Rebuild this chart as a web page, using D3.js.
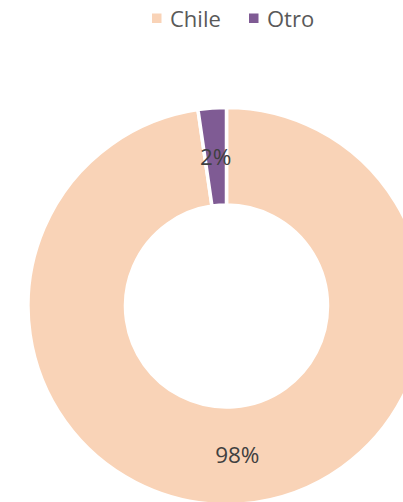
<!DOCTYPE html>
<html><head><meta charset="utf-8">
<script src="https://cdn.jsdelivr.net/npm/d3@7"></script>
<style>body{margin:0;background:#fff;}svg{display:block;}</style>
</head><body>
<script>
const categories = ["Chile", "Otro"];
const values = [97.7, 2.3];
const colors = ["#F9D3B7", "#7F5B94"];

const W = 403, H = 502;
const cx = 226.5, cy = 306, R = 198.5, r = 101;
const svg = d3.select("body").append("svg").attr("width", W).attr("height", H);

const total = d3.sum(values);
const pie = d3.pie().sort(null).value(d => d)(values);
const arc = d3.arc().innerRadius(r).outerRadius(R);
const labelArc = d3.arc().innerRadius((r + R) / 2).outerRadius((r + R) / 2);

const g = svg.append("g").attr("transform", `translate(${cx},${cy})`);
g.selectAll("path").data(pie).enter().append("path")
  .attr("d", arc).attr("fill", (d, i) => colors[i])
  .attr("stroke", "#fff").attr("stroke-width", 3.5).attr("stroke-linejoin", "miter");

g.selectAll("text").data(pie).enter().append("text")
  .attr("transform", d => `translate(${labelArc.centroid(d)})`)
  .attr("text-anchor", "middle").attr("dy", "0.35em")
  .attr("font-family", "Open Sans").attr("font-size", 22.5).attr("fill", "#404040")
  .text(d => Math.round(d.value / total * 100) + "%");

// legend
const legX = [152, 249];
const leg = svg.append("g");
categories.forEach((c, i) => {
  leg.append("rect").attr("x", legX[i]).attr("y", 13.5).attr("width", 9.5).attr("height", 9.5).attr("fill", colors[i]);
  leg.append("text").attr("x", legX[i] + 18).attr("y", 27)
    .attr("font-family", "Open Sans").attr("font-size", 22).attr("fill", "#595959").text(c);
});
</script>
</body></html>
